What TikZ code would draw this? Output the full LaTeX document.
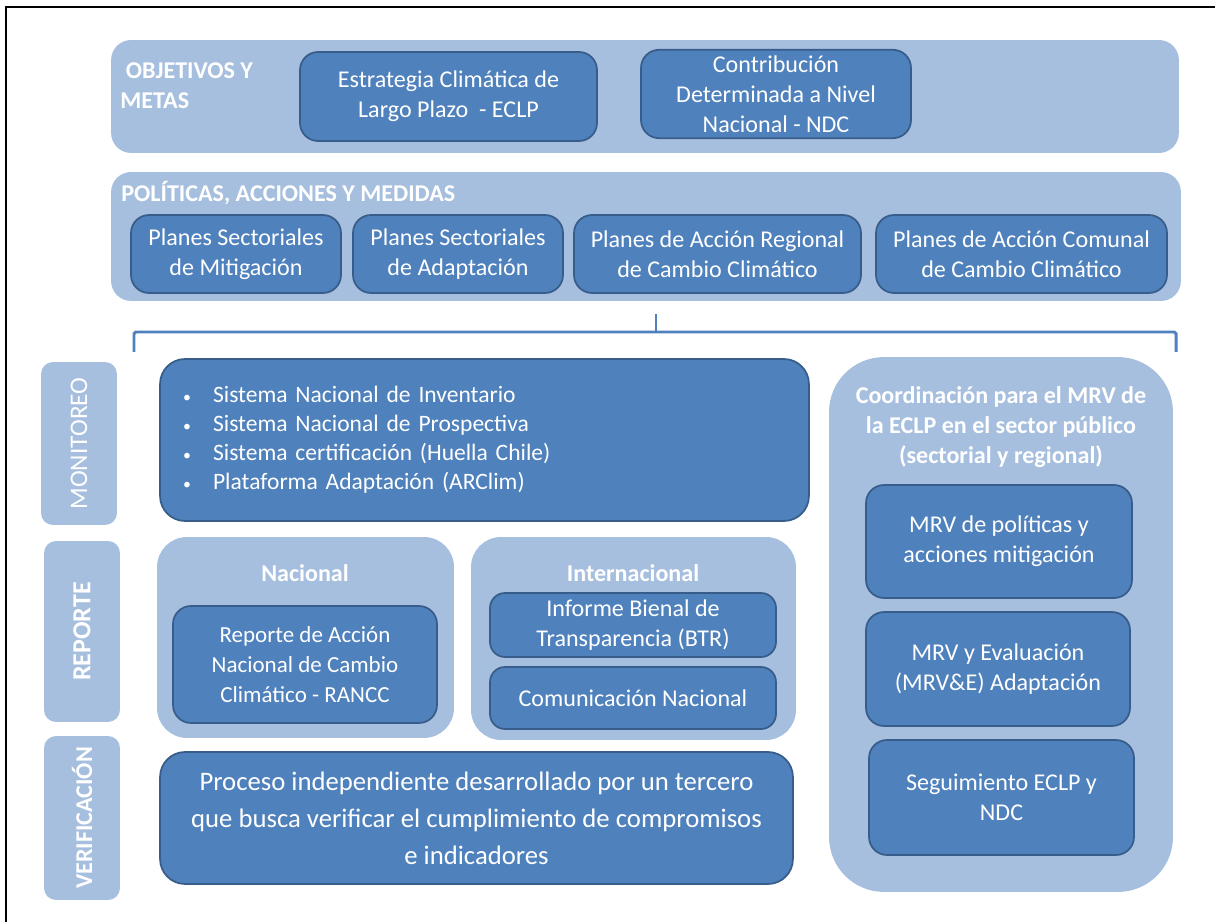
\documentclass[tikz,border=0pt]{standalone}
\usepackage{fontspec}
\setmainfont{Carlito}
\usetikzlibrary{positioning}
\definecolor{bandfill}{HTML}{A7BFDE}
\definecolor{boxfill}{HTML}{4F81BD}
\definecolor{boxedge}{HTML}{385D8A}

\begin{document}
\begin{tikzpicture}[x=0.02cm, y=-0.02cm,
  band/.style={fill=bandfill, rounded corners=0.4cm, inner sep=0pt},
  darkbox/.style={draw=boxedge, fill=boxfill, line width=1pt, rounded corners=0.36cm, text=white, align=center, font=\fontsize{13.7}{17}\selectfont},
  bandtitle/.style={text=white, align=left, font=\bfseries\fontsize{13.7}{17}\selectfont, inner sep=0pt},
  sidelabel/.style={fill=bandfill, rounded corners=0.24cm, rotate=90, text=white, minimum height=1.52cm, font=\fontsize{14.4}{16}\selectfont},
  bracket/.style={draw=boxfill, line width=1.7pt, rounded corners=1pt}]
  \useasboundingbox (0,0) rectangle (1215,922);
  \draw[line width=1.2pt] (6,922) -- (6,7) -- (1215,7);

  % Objetivos y metas
  \node[band, minimum width=21.36cm, minimum height=2.26cm] (objband) at (645,96.5) {};
  \node[bandtitle, anchor=west] (objtitle) at (120,86) {\ OBJETIVOS Y\\METAS};
  \node[darkbox, minimum width=5.94cm, minimum height=1.78cm] (eclp) at (448.5,96.5) {Estrategia Climática de\\Largo Plazo\ \ - ECLP};
  \node[darkbox, minimum width=5.4cm, minimum height=1.68cm] (ndc) at (776,94) {Contribución\\Determinada a Nivel\\Nacional - NDC};

  % Politicas, acciones y medidas
  \node[band, minimum width=21.4cm, minimum height=2.58cm] (polband) at (646,236.5) {};
  \node[bandtitle, anchor=west] (poltitle) at (121,193) {POLÍTICAS, ACCIONES Y MEDIDAS};
  \node[darkbox, minimum width=4.2cm, minimum height=1.56cm] (psm) at (236,254) {Planes Sectoriales\\de Mitigación};
  \node[darkbox, minimum width=4.2cm, minimum height=1.56cm] (psa) at (458,254) {Planes Sectoriales\\de Adaptación};
  \node[darkbox, minimum width=5.74cm, minimum height=1.56cm] (parcc) at (717.5,254) {Planes de Acción Regional\\de Cambio Climático};
  \node[darkbox, minimum width=5.82cm, minimum height=1.56cm] (pacc) at (1021.5,254) {Planes de Acción Comunal\\de Cambio Climático};

  % Bracket
  \coordinate (brtick) at (656,314);
  \coordinate (brleft) at (134,352);
  \coordinate (brright) at (1176,352);
  \draw[bracket] (brleft) -- (134,332) -- (1176,332) -- (brright);
  \draw[bracket] (brtick) -- (656,332);

  % Side labels
  \node[sidelabel, minimum width=3.26cm] (mon) at (79,443.5) {MONITOREO};
  \node[sidelabel, minimum width=3.62cm, font=\bfseries\fontsize{14.8}{16}\selectfont] (rep) at (82,631.5) {REPORTE};
  \node[sidelabel, minimum width=3.28cm, font=\bfseries\fontsize{13.7}{16}\selectfont] (ver) at (82,818) {VERIFICACIÓN};

  % Monitoreo
  \node[darkbox, minimum width=12.98cm, minimum height=3.24cm, text width=12.06cm, inner xsep=0.46cm, align=left, rounded corners=0.5cm, font=\fontsize{13.4}{16.5}\selectfont] (monbox) at (484.5,440)
    {\makebox[0.6cm][l]{\fontsize{9}{9}\selectfont\textbullet}Sistema Nacional de Inventario\\
     \makebox[0.6cm][l]{\fontsize{9}{9}\selectfont\textbullet}Sistema Nacional de Prospectiva\\
     \makebox[0.6cm][l]{\fontsize{9}{9}\selectfont\textbullet}Sistema certificación (Huella Chile)\\
     \makebox[0.6cm][l]{\fontsize{9}{9}\selectfont\textbullet}Plataforma Adaptación (ARClim)};

  % Reporte
  \node[band, rounded corners=0.6cm, minimum width=5.94cm, minimum height=4.02cm] (nacband) at (305.5,637.5) {};
  \node[bandtitle] (nactitle) at (305,573) {Nacional};
  \node[darkbox, minimum width=5.28cm, minimum height=2.34cm, font=\fontsize{13.1}{17}\selectfont] (rancc) at (305,664.5) {Reporte de Acción\\Nacional de Cambio\\Climático - RANCC};
  \node[band, rounded corners=0.6cm, minimum width=6.5cm, minimum height=4.06cm] (intband) at (633.5,638.5) {};
  \node[bandtitle] (inttitle) at (633,573) {Internacional};
  \node[darkbox, minimum width=5.72cm, minimum height=1.28cm, rounded corners=0.3cm] (btr) at (633,625) {Informe Bienal de\\Transparencia (BTR)};
  \node[darkbox, minimum width=5.72cm, minimum height=1.24cm, rounded corners=0.3cm] (comnac) at (633,698) {Comunicación Nacional};

  % Verificacion
  \node[darkbox, minimum width=12.66cm, minimum height=2.64cm, rounded corners=0.5cm, font=\fontsize{15.2}{21}\selectfont] (verbox) at (476.5,818) {Proceso independiente desarrollado por un tercero\\que busca verificar el cumplimiento de compromisos\\e indicadores};

  % Coordinacion MRV
  \node[band, rounded corners=1.1cm, minimum width=6.88cm, minimum height=10.7cm] (coordband) at (1001,624.5) {};
  \node[bandtitle, align=center] (coordtitle) at (1001,427) {Coordinación para el MRV de\\la ECLP en el sector público\\(sectorial y regional)};
  \node[darkbox, minimum width=5.32cm, minimum height=2.26cm] (mrvmit) at (999,541.5) {MRV de políticas y\\acciones mitigación};
  \node[darkbox, minimum width=5.28cm, minimum height=2.28cm] (mrvad) at (998,669) {MRV y Evaluación\\(MRV\&E) Adaptación};
  \node[darkbox, minimum width=5.3cm, minimum height=2.3cm] (segui) at (1001.5,797.5) {Seguimiento ECLP y\\NDC};
\end{tikzpicture}
\end{document}
